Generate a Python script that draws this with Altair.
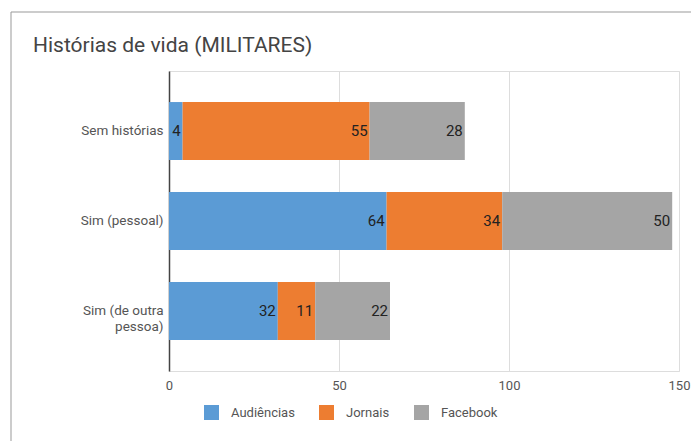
import altair as alt
import pandas as pd

titulo = "Histórias de vida (MILITARES)"
categorias = ["Sem histórias", "Sim (pessoal)", "Sim (de outra pessoa)"]
series = ["Audiências", "Jornais", "Facebook"]
audiencias = [4, 64, 32]
jornais = [55, 34, 11]
facebook = [28, 50, 22]
cores = ["#5b9bd5", "#ed7d31", "#a5a5a5"]
eixo_x = [0, 50, 100, 150]

rows = []
for i, c in enumerate(categorias):
    for j, (s, vals) in enumerate(zip(series, [audiencias, jornais, facebook])):
        rows.append({"categoria": c, "serie": s, "valor": vals[i], "ordem": j})
df = pd.DataFrame(rows)

FONT = "Roboto"

base = alt.Chart(df).transform_stack(
    stack="valor", groupby=["categoria"], sort=[alt.SortField("ordem")], as_=["x0", "x1"]
)

y_enc = alt.Y(
    "categoria:N",
    sort=categorias,
    title=None,
    scale=alt.Scale(paddingInner=0.356, paddingOuter=0.345),
    axis=alt.Axis(
        ticks=False,
        domain=True,
        domainColor="#444444",
        domainWidth=1.5,
        labelFont=FONT,
        labelFontSize=13.5,
        labelColor="#555555",
        labelPadding=6,
        labelLineHeight=16,
        labelExpr="datum.label == 'Sim (de outra pessoa)' ? ['Sim (de outra', 'pessoa)'] : datum.label",
    ),
)

bars = base.mark_bar().encode(
    x=alt.X(
        "x0:Q",
        scale=alt.Scale(domain=[0, 150], nice=False),
        title=None,
        axis=alt.Axis(
            values=eixo_x,
            ticks=False,
            domain=False,
            grid=True,
            gridColor="#dddddd",
            labelFont=FONT,
            labelFontSize=13,
            labelColor="#555555",
            labelPadding=8,
            labelFlush=False,
        ),
    ),
    x2="x1:Q",
    y=y_enc,
    color=alt.Color(
        "serie:N",
        sort=series,
        scale=alt.Scale(domain=series, range=cores),
        legend=alt.Legend(
            title=None,
            orient="none",
            direction="horizontal",
            legendX=35,
            legendY=334,
            symbolType="square",
            symbolSize=225,
            symbolStrokeWidth=0,
            symbolOpacity=1,
            labelFont=FONT,
            labelFontSize=13,
            labelColor="#555555",
            labelOffset=12,
            columnPadding=24,
            padding=0,
        ),
    ),
    order=alt.Order("ordem:Q"),
)

labels = base.mark_text(
    align="right", baseline="middle", dx=-2, font=FONT, fontSize=15, color="#222222"
).encode(
    x=alt.X("x1:Q"),
    y=alt.Y("categoria:N", sort=categorias),
    text=alt.Text("valor:Q"),
)

one = pd.DataFrame({"t": [titulo]})
title_mark = alt.Chart(one).mark_text(
    align="left", baseline="alphabetic", font=FONT, fontSize=21, color="#444444"
).encode(x=alt.value(-136), y=alt.value(-19), text="t:N")

frame_top = alt.Chart(one).mark_rule(color="#999999", strokeWidth=1).encode(
    x=alt.value(-158), x2=alt.value(540), y=alt.value(-59)
)
frame_left = alt.Chart(one).mark_rule(color="#999999", strokeWidth=1).encode(
    x=alt.value(-158), y=alt.value(-59), y2=alt.value(380)
)

chart = (
    alt.layer(frame_top, frame_left, title_mark, bars, labels)
    .resolve_scale(y="shared")
    .properties(
        width=510,
        height=300,
        autosize=alt.AutoSizeParams(type="none"),
        padding={"left": 169, "top": 71, "right": 12, "bottom": 70},
    )
    .configure_view(stroke=None)
    .configure(background="white")
)

chart.save("out.html", embed_options={"renderer": "svg", "actions": False})
